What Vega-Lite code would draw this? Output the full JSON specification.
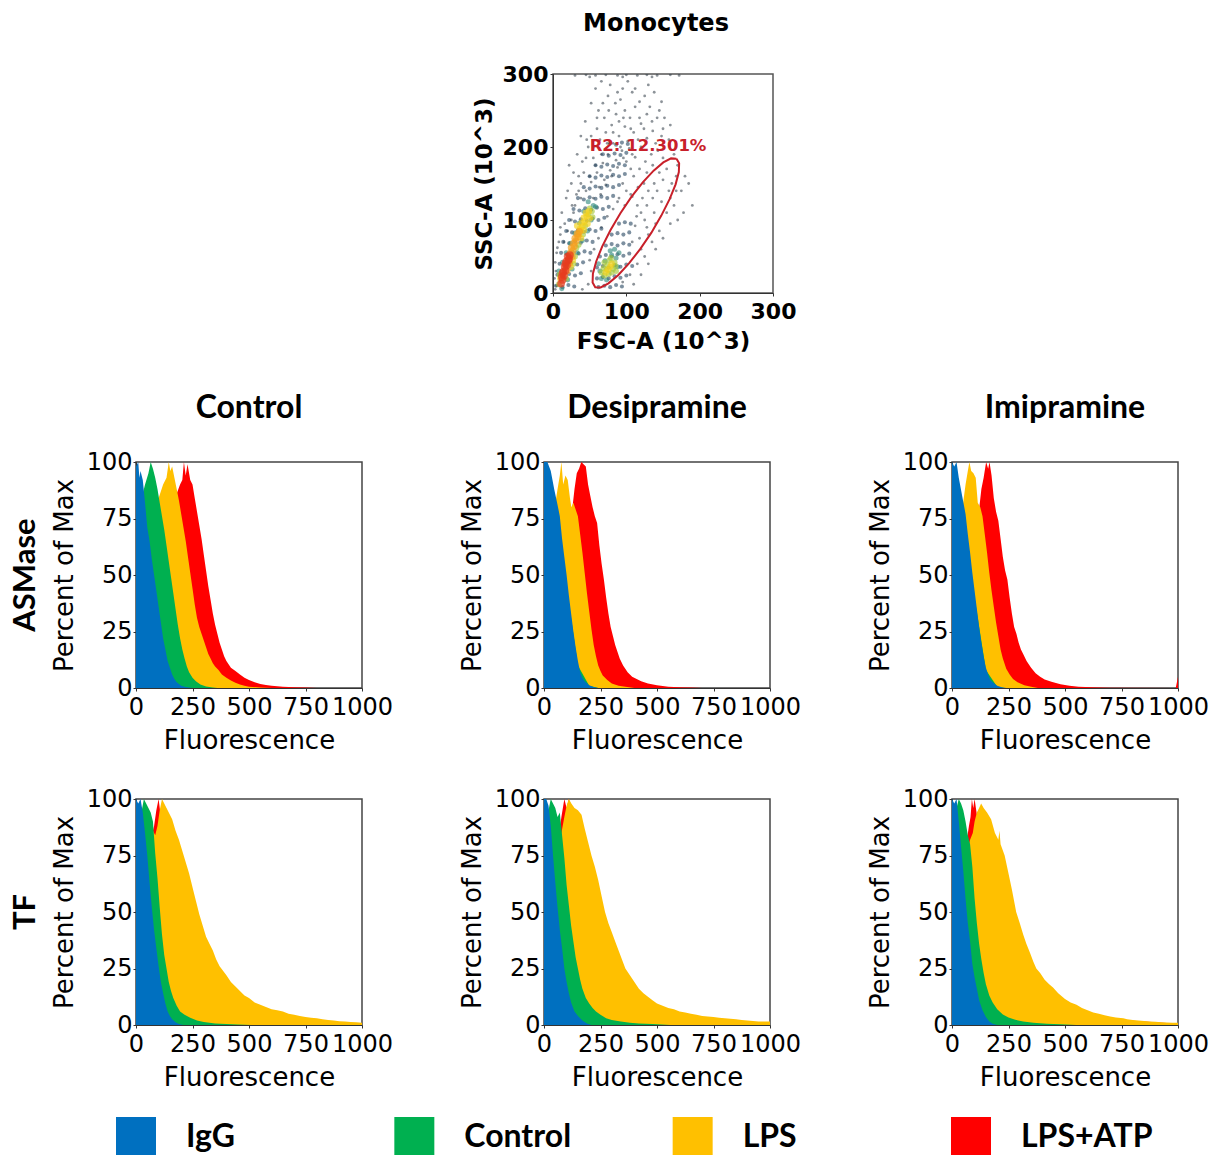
{
"$schema": "https://vega.github.io/schema/vega-lite/v6.json",
"padding": {"left": 9, "top": 11, "right": 5, "bottom": 0},
"background": "white",
"config": {
 "view": {"stroke": "#444", "strokeWidth": 1.5},
 "axis": {"labelFont": "DejaVu Sans", "titleFont": "DejaVu Sans", "labelColor": "black", "titleColor": "black", "labelFontSize": 24, "titleFontSize": 26, "titleFontWeight": "normal", "grid": false, "domainColor": "#333", "tickColor": "#333", "tickSize": 3, "labelPadding": 1, "labelOverlap": false, "labelFlush": false}
},
"datasets": {
 "panels": [
  {"p": 1, "m": "ASMase", "t": "Control"},
  {"p": 2, "m": "ASMase", "t": "Desipramine"},
  {"p": 3, "m": "ASMase", "t": "Imipramine"},
  {"p": 4, "m": "TF", "t": "Control"},
  {"p": 5, "m": "TF", "t": "Desipramine"},
  {"p": 6, "m": "TF", "t": "Imipramine"}
 ],
 "gate": [
  {"i":0,"x":168.4,"y":184.0},{"i":1,"x":161.0,"y":184.4},{"i":2,"x":150.4,"y":178.9},{"i":3,"x":137.2,"y":167.6},{"i":4,"x":122.4,"y":151.5},{"i":5,"x":106.9,"y":131.6},{"i":6,"x":91.9,"y":109.3},{"i":7,"x":78.3,"y":86.0},{"i":8,"x":67.0,"y":63.5},{"i":9,"x":58.9,"y":43.2},{"i":10,"x":54.4,"y":26.4},{"i":11,"x":54.0,"y":14.4},{"i":12,"x":57.6,"y":8.0},{"i":13,"x":65.0,"y":7.6},{"i":14,"x":75.6,"y":13.2},{"i":15,"x":88.8,"y":24.4},{"i":16,"x":103.6,"y":40.5},{"i":17,"x":119.1,"y":60.4},{"i":18,"x":134.2,"y":82.7},{"i":19,"x":147.7,"y":106.0},{"i":20,"x":159.0,"y":128.5},{"i":21,"x":167.2,"y":148.8},{"i":22,"x":171.6,"y":165.6},{"i":23,"x":172.0,"y":177.6},{"i":24,"x":168.4,"y":184.0}
 ],
 "events": [
  {"x":45,"y":140,"d":0},{"x":52,"y":152,"d":0},{"x":60,"y":165,"d":0},{"x":68,"y":178,"d":0},{"x":75,"y":190,"d":0},{"x":82,"y":205,"d":0},{"x":90,"y":215,"d":0},{"x":98,"y":228,"d":0},{"x":105,"y":240,"d":0},{"x":112,"y":255,"d":0},{"x":118,"y":262,"d":0},{"x":125,"y":270,"d":0},
  {"x":55,"y":130,"d":0},{"x":63,"y":145,"d":0},{"x":70,"y":155,"d":0},{"x":78,"y":168,"d":0},{"x":86,"y":182,"d":0},{"x":94,"y":195,"d":0},{"x":102,"y":208,"d":0},{"x":110,"y":220,"d":0},{"x":120,"y":232,"d":0},{"x":128,"y":245,"d":0},{"x":135,"y":235,"d":0},
  {"x":65,"y":135,"d":0},{"x":72,"y":148,"d":0},{"x":80,"y":160,"d":0},{"x":88,"y":172,"d":0},{"x":96,"y":185,"d":0},{"x":104,"y":198,"d":0},{"x":112,"y":186,"d":0},{"x":120,"y":200,"d":0},{"x":128,"y":212,"d":0},{"x":136,"y":222,"d":0},{"x":142,"y":240,"d":0},
  {"x":50,"y":160,"d":0},{"x":58,"y":175,"d":0},{"x":66,"y":190,"d":0},{"x":74,"y":205,"d":0},{"x":82,"y":220,"d":0},{"x":90,"y":235,"d":0},{"x":98,"y":250,"d":0},{"x":85,"y":260,"d":0},{"x":70,"y":240,"d":0},{"x":60,"y":225,"d":0},{"x":48,"y":200,"d":0},{"x":40,"y":180,"d":0},{"x":35,"y":160,"d":0},
  {"x":110,"y":160,"d":0},{"x":118,"y":170,"d":0},{"x":126,"y":180,"d":0},{"x":134,"y":190,"d":0},{"x":140,"y":205,"d":0},{"x":148,"y":215,"d":0},{"x":150,"y":185,"d":0},{"x":145,"y":165,"d":0},{"x":138,"y":150,"d":0},{"x":130,"y":140,"d":0},{"x":122,"y":130,"d":0},{"x":115,"y":120,"d":0},{"x":108,"y":132,"d":0},{"x":100,"y":140,"d":0},{"x":95,"y":150,"d":0},{"x":88,"y":125,"d":0},{"x":112,"y":92,"d":0},{"x":120,"y":110,"d":0},{"x":128,"y":120,"d":0},{"x":136,"y":130,"d":0},{"x":142,"y":140,"d":0},{"x":150,"y":155,"d":0},{"x":155,"y":170,"d":0},
  {"x":30,"y":120,"d":0},{"x":25,"y":100,"d":0},{"x":20,"y":85,"d":0},{"x":15,"y":70,"d":0},{"x":35,"y":140,"d":0},{"x":28,"y":110,"d":0},{"x":42,"y":165,"d":0},{"x":38,"y":130,"d":0},{"x":55,"y":185,"d":0},{"x":46,"y":210,"d":0},{"x":62,"y":250,"d":0},{"x":75,"y":270,"d":0},{"x":95,"y":280,"d":0},{"x":108,"y":275,"d":0},{"x":130,"y":285,"d":0},{"x":148,"y":262,"d":0},{"x":160,"y":230,"d":0},
  {"x":30,"y":298,"d":0},{"x":45,"y":299,"d":0},{"x":58,"y":298,"d":0},{"x":72,"y":299,"d":0},{"x":88,"y":298,"d":0},{"x":100,"y":299,"d":0},{"x":115,"y":298,"d":0},{"x":128,"y":299,"d":0},{"x":142,"y":298,"d":0},{"x":160,"y":299,"d":0},{"x":172,"y":298,"d":0},{"x":50,"y":296,"d":0},{"x":95,"y":296,"d":0},{"x":135,"y":296,"d":0},
  {"x":120,"y":60,"d":0},{"x":130,"y":80,"d":0},{"x":140,"y":95,"d":0},{"x":155,"y":110,"d":0},{"x":160,"y":130,"d":0},{"x":165,"y":120,"d":0},{"x":115,"y":40,"d":0},{"x":125,"y":50,"d":0},{"x":105,"y":25,"d":0},{"x":95,"y":15,"d":0},{"x":110,"y":12,"d":0},{"x":135,"y":70,"d":0},{"x":145,"y":85,"d":0},{"x":175,"y":140,"d":0},{"x":180,"y":160,"d":0},{"x":170,"y":100,"d":0},
  {"x":3,"y":5,"d":0},{"x":5,"y":10,"d":0},{"x":4,"y":30,"d":0},{"x":5,"y":55,"d":0},{"x":8,"y":70,"d":0},{"x":10,"y":90,"d":0},{"x":12,"y":110,"d":0},{"x":18,"y":130,"d":0},{"x":25,"y":150,"d":0},{"x":22,"y":175,"d":0},
  {"x":20,"y":140,"d":0},{"x":28,"y":165,"d":0},{"x":33,"y":190,"d":0},{"x":38,"y":215,"d":0},{"x":44,"y":235,"d":0},{"x":52,"y":260,"d":0},{"x":58,"y":280,"d":0},{"x":66,"y":290,"d":0},{"x":78,"y":285,"d":0},{"x":86,"y":245,"d":0},{"x":92,"y":265,"d":0},{"x":102,"y":290,"d":0},{"x":112,"y":280,"d":0},{"x":118,"y":240,"d":0},{"x":124,"y":225,"d":0},{"x":132,"y":255,"d":0},{"x":138,"y":275,"d":0},{"x":145,"y":250,"d":0},{"x":152,"y":240,"d":0},{"x":158,"y":210,"d":0},{"x":165,"y":190,"d":0},{"x":170,"y":175,"d":0},{"x":162,"y":150,"d":0},{"x":168,"y":160,"d":0},{"x":185,"y":150,"d":0},{"x":190,"y":120,"d":0},{"x":178,"y":110,"d":0},{"x":160,"y":95,"d":0},{"x":150,"y":75,"d":0},{"x":140,"y":60,"d":0},{"x":130,"y":40,"d":0},{"x":120,"y":25,"d":0},{"x":128,"y":90,"d":0},{"x":118,"y":75,"d":0},{"x":108,"y":70,"d":0},{"x":114,"y":105,"d":0},{"x":124,"y":150,"d":0},{"x":106,"y":170,"d":0},{"x":100,"y":180,"d":0},{"x":92,"y":200,"d":0},{"x":108,"y":190,"d":0},{"x":116,"y":210,"d":0},{"x":106,"y":225,"d":0},{"x":96,"y":240,"d":0},{"x":80,"y":230,"d":0},{"x":72,"y":220,"d":0},{"x":64,"y":210,"d":0},{"x":56,"y":200,"d":0},{"x":52,"y":215,"d":0},{"x":60,"y":240,"d":0},{"x":68,"y":260,"d":0},{"x":88,"y":275,"d":0},{"x":76,"y":250,"d":0},{"x":45,"y":185,"d":0},{"x":38,"y":150,"d":0},{"x":32,"y":135,"d":0},{"x":26,"y":120,"d":0},{"x":16,"y":95,"d":0},{"x":10,"y":80,"d":0},{"x":6,"y":62,"d":0},{"x":3,"y":42,"d":0},{"x":2,"y":20,"d":0},{"x":40,"y":5,"d":0},{"x":48,"y":12,"d":0},{"x":52,"y":30,"d":0},{"x":50,"y":45,"d":0},{"x":56,"y":60,"d":0},{"x":62,"y":75,"d":0},{"x":66,"y":90,"d":0},{"x":74,"y":105,"d":0},{"x":82,"y":115,"d":0},{"x":90,"y":130,"d":0},{"x":98,"y":120,"d":0},{"x":106,"y":135,"d":0},{"x":116,"y":145,"d":0},{"x":128,"y":165,"d":0},{"x":136,"y":175,"d":0},{"x":143,"y":195,"d":0},{"x":150,"y":225,"d":0},{"x":138,"y":110,"d":0},{"x":148,"y":125,"d":0},{"x":158,"y":140,"d":0},{"x":168,"y":140,"d":0},{"x":125,"y":100,"d":0},
  {"x":4,"y":10,"d":1},{"x":13,"y":8,"d":1},{"x":21,"y":11,"d":1},{"x":29,"y":9,"d":1},
  {"x":6,"y":25,"d":1},{"x":14,"y":23,"d":1},{"x":22,"y":26,"d":1},{"x":30,"y":24,"d":1},{"x":38,"y":27,"d":1},
  {"x":9,"y":40,"d":1},{"x":17,"y":38,"d":1},{"x":25,"y":41,"d":1},{"x":33,"y":39,"d":1},{"x":41,"y":42,"d":1},
  {"x":11,"y":55,"d":1},{"x":19,"y":53,"d":1},{"x":27,"y":56,"d":1},{"x":35,"y":54,"d":1},{"x":43,"y":57,"d":1},{"x":51,"y":55,"d":1},
  {"x":14,"y":70,"d":1},{"x":22,"y":68,"d":1},{"x":30,"y":71,"d":1},{"x":38,"y":69,"d":1},{"x":46,"y":72,"d":1},{"x":54,"y":70,"d":1},
  {"x":18,"y":85,"d":1},{"x":26,"y":83,"d":1},{"x":34,"y":86,"d":1},{"x":42,"y":84,"d":1},{"x":50,"y":87,"d":1},{"x":58,"y":85,"d":1},{"x":66,"y":88,"d":1},
  {"x":22,"y":100,"d":1},{"x":30,"y":98,"d":1},{"x":38,"y":101,"d":1},{"x":46,"y":99,"d":1},{"x":54,"y":102,"d":1},{"x":62,"y":100,"d":1},{"x":70,"y":103,"d":1},
  {"x":28,"y":115,"d":1},{"x":36,"y":113,"d":1},{"x":44,"y":116,"d":1},{"x":52,"y":114,"d":1},{"x":60,"y":117,"d":1},{"x":68,"y":115,"d":1},{"x":76,"y":118,"d":1},
  {"x":34,"y":130,"d":1},{"x":42,"y":128,"d":1},{"x":50,"y":131,"d":1},{"x":58,"y":129,"d":1},{"x":66,"y":132,"d":1},{"x":74,"y":130,"d":1},{"x":82,"y":133,"d":1},
  {"x":42,"y":145,"d":1},{"x":50,"y":143,"d":1},{"x":58,"y":146,"d":1},{"x":66,"y":144,"d":1},{"x":74,"y":147,"d":1},{"x":82,"y":145,"d":1},{"x":90,"y":148,"d":1},
  {"x":50,"y":160,"d":1},{"x":58,"y":158,"d":1},{"x":66,"y":161,"d":1},{"x":74,"y":159,"d":1},{"x":82,"y":162,"d":1},{"x":90,"y":160,"d":1},{"x":98,"y":163,"d":1},
  {"x":58,"y":175,"d":1},{"x":66,"y":173,"d":1},{"x":74,"y":176,"d":1},{"x":82,"y":174,"d":1},{"x":90,"y":177,"d":1},{"x":98,"y":175,"d":1},
  {"x":68,"y":190,"d":1},{"x":76,"y":188,"d":1},{"x":84,"y":191,"d":1},{"x":92,"y":189,"d":1},{"x":100,"y":192,"d":1},
  {"x":78,"y":205,"d":1},{"x":86,"y":203,"d":1},{"x":94,"y":206,"d":1},{"x":102,"y":204,"d":1},
  {"x":62,"y":8,"d":1},{"x":70,"y":10,"d":1},{"x":78,"y":8,"d":1},{"x":86,"y":11,"d":1},{"x":94,"y":9,"d":1},
  {"x":60,"y":20,"d":1},{"x":68,"y":22,"d":1},{"x":76,"y":20,"d":1},{"x":84,"y":23,"d":1},{"x":92,"y":21,"d":1},{"x":100,"y":24,"d":1},
  {"x":60,"y":35,"d":1},{"x":68,"y":37,"d":1},{"x":76,"y":35,"d":1},{"x":84,"y":38,"d":1},{"x":92,"y":36,"d":1},{"x":100,"y":39,"d":1},{"x":108,"y":37,"d":1},
  {"x":64,"y":50,"d":1},{"x":72,"y":52,"d":1},{"x":80,"y":50,"d":1},{"x":88,"y":53,"d":1},{"x":96,"y":51,"d":1},{"x":104,"y":54,"d":1},
  {"x":72,"y":65,"d":1},{"x":80,"y":67,"d":1},{"x":88,"y":65,"d":1},{"x":96,"y":68,"d":1},{"x":104,"y":66,"d":1},
  {"x":80,"y":80,"d":1},{"x":88,"y":82,"d":1},{"x":96,"y":80,"d":1},{"x":104,"y":83,"d":1},
  {"x":90,"y":95,"d":1},{"x":98,"y":97,"d":1},{"x":106,"y":95,"d":1},
  {"x":55,"y":120,"d":2},{"x":52,"y":100,"d":2},{"x":47,"y":85,"d":2},{"x":40,"y":72,"d":2},{"x":33,"y":55,"d":2},{"x":26,"y":33,"d":2},{"x":20,"y":18,"d":2},{"x":12,"y":6,"d":2},{"x":8,"y":30,"d":2},{"x":13,"y":42,"d":2},{"x":18,"y":55,"d":2},{"x":24,"y":68,"d":2},{"x":30,"y":82,"d":2},{"x":36,"y":96,"d":2},{"x":42,"y":112,"d":2},{"x":48,"y":125,"d":2},{"x":58,"y":118,"d":2},
  {"x":66,"y":20,"d":2},{"x":64,"y":30,"d":2},{"x":71,"y":44,"d":2},{"x":86,"y":48,"d":2},{"x":80,"y":52,"d":2},{"x":88,"y":36,"d":2},{"x":73,"y":18,"d":2},{"x":62,"y":40,"d":2},{"x":90,"y":55,"d":2},{"x":78,"y":58,"d":2},{"x":84,"y":60,"d":2},
  {"x":50,"y":116,"d":3},{"x":48,"y":108,"d":3},{"x":53,"y":112,"d":3},{"x":8,"y":12,"d":3},{"x":9,"y":25,"d":3},{"x":18,"y":20,"d":3},{"x":28,"y":40,"d":3},{"x":32,"y":62,"d":3},{"x":41,"y":80,"d":3},{"x":44,"y":92,"d":3},{"x":35,"y":66,"d":3},{"x":30,"y":50,"d":3},{"x":54,"y":104,"d":3},
  {"x":70,"y":24,"d":3},{"x":74,"y":38,"d":3},{"x":82,"y":33,"d":3},{"x":77,"y":45,"d":3},{"x":69,"y":34,"d":3},{"x":84,"y":42,"d":3},{"x":76,"y":26,"d":3},{"x":66,"y":28,"d":3},{"x":86,"y":30,"d":3},{"x":80,"y":28,"d":3},{"x":70,"y":42,"d":3},{"x":79,"y":48,"d":3},{"x":73,"y":32,"d":3},{"x":85,"y":37,"d":3},
  {"x":37,"y":88,"d":4},{"x":40,"y":91,"d":4},{"x":39,"y":96,"d":4},{"x":43,"y":98,"d":4},{"x":42,"y":103,"d":4},{"x":46,"y":105,"d":4},{"x":45,"y":110,"d":4},{"x":49,"y":112,"d":4},{"x":35,"y":80,"d":4},{"x":38,"y":86,"d":4},{"x":27,"y":45,"d":4},{"x":10,"y":20,"d":4},{"x":24,"y":36,"d":4},{"x":33,"y":92,"d":4},{"x":47,"y":95,"d":4},{"x":38,"y":75,"d":4},{"x":50,"y":102,"d":4},{"x":42,"y":86,"d":4},
  {"x":75,"y":32,"d":4},{"x":78,"y":36,"d":4},{"x":72,"y":28,"d":4},{"x":80,"y":40,"d":4},
  {"x":24,"y":55,"d":5},{"x":27,"y":58,"d":5},{"x":25,"y":62,"d":5},{"x":29,"y":64,"d":5},{"x":28,"y":68,"d":5},{"x":31,"y":71,"d":5},{"x":30,"y":75,"d":5},{"x":34,"y":77,"d":5},{"x":33,"y":81,"d":5},{"x":36,"y":84,"d":5},{"x":26,"y":50,"d":5},{"x":22,"y":40,"d":5},{"x":19,"y":30,"d":5},
  {"x":11,"y":13,"d":6},{"x":13,"y":18,"d":6},{"x":12,"y":22,"d":6},{"x":15,"y":24,"d":6},{"x":14,"y":29,"d":6},{"x":17,"y":31,"d":6},{"x":16,"y":36,"d":6},{"x":19,"y":38,"d":6},{"x":18,"y":43,"d":6},{"x":21,"y":45,"d":6},{"x":20,"y":50,"d":6},{"x":23,"y":52,"d":6},{"x":13,"y":27,"d":6},{"x":17,"y":40,"d":6},{"x":22,"y":47,"d":6}
 ],
 "hist": [
  {"p":1,"s":"IgG","x":0,"y":98},{"p":1,"s":"IgG","x":10,"y":100},{"p":1,"s":"IgG","x":15,"y":93},{"p":1,"s":"IgG","x":20,"y":96},{"p":1,"s":"IgG","x":30,"y":92},{"p":1,"s":"IgG","x":40,"y":82},{"p":1,"s":"IgG","x":50,"y":71},{"p":1,"s":"IgG","x":60,"y":65},{"p":1,"s":"IgG","x":70,"y":57},{"p":1,"s":"IgG","x":80,"y":50},{"p":1,"s":"IgG","x":90,"y":43},{"p":1,"s":"IgG","x":100,"y":36},{"p":1,"s":"IgG","x":110,"y":29},{"p":1,"s":"IgG","x":120,"y":22},{"p":1,"s":"IgG","x":130,"y":17},{"p":1,"s":"IgG","x":140,"y":12},{"p":1,"s":"IgG","x":150,"y":9},{"p":1,"s":"IgG","x":160,"y":6},{"p":1,"s":"IgG","x":170,"y":4},{"p":1,"s":"IgG","x":180,"y":2.5},{"p":1,"s":"IgG","x":200,"y":1},{"p":1,"s":"IgG","x":220,"y":0.4},{"p":1,"s":"IgG","x":250,"y":0},
  {"p":1,"s":"Control","x":0,"y":70},{"p":1,"s":"Control","x":20,"y":82},{"p":1,"s":"Control","x":40,"y":90},{"p":1,"s":"Control","x":55,"y":95},{"p":1,"s":"Control","x":65,"y":100},{"p":1,"s":"Control","x":75,"y":97},{"p":1,"s":"Control","x":85,"y":93},{"p":1,"s":"Control","x":95,"y":88},{"p":1,"s":"Control","x":105,"y":82},{"p":1,"s":"Control","x":115,"y":76},{"p":1,"s":"Control","x":125,"y":70},{"p":1,"s":"Control","x":135,"y":63},{"p":1,"s":"Control","x":145,"y":56},{"p":1,"s":"Control","x":155,"y":49},{"p":1,"s":"Control","x":165,"y":42},{"p":1,"s":"Control","x":175,"y":35},{"p":1,"s":"Control","x":185,"y":28},{"p":1,"s":"Control","x":195,"y":22},{"p":1,"s":"Control","x":205,"y":17},{"p":1,"s":"Control","x":215,"y":13},{"p":1,"s":"Control","x":225,"y":9.5},{"p":1,"s":"Control","x":235,"y":7},{"p":1,"s":"Control","x":250,"y":4.5},{"p":1,"s":"Control","x":265,"y":3},{"p":1,"s":"Control","x":285,"y":1.5},{"p":1,"s":"Control","x":310,"y":0.7},{"p":1,"s":"Control","x":340,"y":0.2},{"p":1,"s":"Control","x":360,"y":0},
  {"p":1,"s":"LPS","x":0,"y":40},{"p":1,"s":"LPS","x":50,"y":60},{"p":1,"s":"LPS","x":100,"y":84},{"p":1,"s":"LPS","x":120,"y":90},{"p":1,"s":"LPS","x":135,"y":93},{"p":1,"s":"LPS","x":145,"y":100},{"p":1,"s":"LPS","x":152,"y":96},{"p":1,"s":"LPS","x":160,"y":98},{"p":1,"s":"LPS","x":170,"y":93},{"p":1,"s":"LPS","x":180,"y":88},{"p":1,"s":"LPS","x":190,"y":83},{"p":1,"s":"LPS","x":200,"y":77},{"p":1,"s":"LPS","x":210,"y":71},{"p":1,"s":"LPS","x":220,"y":65},{"p":1,"s":"LPS","x":230,"y":58},{"p":1,"s":"LPS","x":240,"y":51},{"p":1,"s":"LPS","x":250,"y":44},{"p":1,"s":"LPS","x":260,"y":37},{"p":1,"s":"LPS","x":270,"y":31},{"p":1,"s":"LPS","x":280,"y":27},{"p":1,"s":"LPS","x":290,"y":24},{"p":1,"s":"LPS","x":300,"y":21},{"p":1,"s":"LPS","x":310,"y":18},{"p":1,"s":"LPS","x":320,"y":15},{"p":1,"s":"LPS","x":330,"y":13},{"p":1,"s":"LPS","x":340,"y":11},{"p":1,"s":"LPS","x":350,"y":9.5},{"p":1,"s":"LPS","x":365,"y":8},{"p":1,"s":"LPS","x":380,"y":6},{"p":1,"s":"LPS","x":400,"y":4.5},{"p":1,"s":"LPS","x":420,"y":3.3},{"p":1,"s":"LPS","x":440,"y":2.3},{"p":1,"s":"LPS","x":460,"y":1.6},{"p":1,"s":"LPS","x":480,"y":1},{"p":1,"s":"LPS","x":500,"y":0.6},{"p":1,"s":"LPS","x":550,"y":0.2},{"p":1,"s":"LPS","x":600,"y":0},
  {"p":1,"s":"LPS+ATP","x":0,"y":30},{"p":1,"s":"LPS+ATP","x":100,"y":60},{"p":1,"s":"LPS+ATP","x":150,"y":78},{"p":1,"s":"LPS+ATP","x":180,"y":86},{"p":1,"s":"LPS+ATP","x":195,"y":90},{"p":1,"s":"LPS+ATP","x":205,"y":92},{"p":1,"s":"LPS+ATP","x":212,"y":100},{"p":1,"s":"LPS+ATP","x":220,"y":94},{"p":1,"s":"LPS+ATP","x":228,"y":99},{"p":1,"s":"LPS+ATP","x":240,"y":92},{"p":1,"s":"LPS+ATP","x":250,"y":90},{"p":1,"s":"LPS+ATP","x":260,"y":84},{"p":1,"s":"LPS+ATP","x":270,"y":78},{"p":1,"s":"LPS+ATP","x":280,"y":72},{"p":1,"s":"LPS+ATP","x":290,"y":66},{"p":1,"s":"LPS+ATP","x":300,"y":59},{"p":1,"s":"LPS+ATP","x":310,"y":52},{"p":1,"s":"LPS+ATP","x":320,"y":45},{"p":1,"s":"LPS+ATP","x":330,"y":39},{"p":1,"s":"LPS+ATP","x":340,"y":33},{"p":1,"s":"LPS+ATP","x":350,"y":28},{"p":1,"s":"LPS+ATP","x":360,"y":24},{"p":1,"s":"LPS+ATP","x":370,"y":20},{"p":1,"s":"LPS+ATP","x":380,"y":17},{"p":1,"s":"LPS+ATP","x":390,"y":14},{"p":1,"s":"LPS+ATP","x":400,"y":12},{"p":1,"s":"LPS+ATP","x":420,"y":9},{"p":1,"s":"LPS+ATP","x":440,"y":7.5},{"p":1,"s":"LPS+ATP","x":460,"y":6},{"p":1,"s":"LPS+ATP","x":480,"y":4.5},{"p":1,"s":"LPS+ATP","x":500,"y":3.5},{"p":1,"s":"LPS+ATP","x":525,"y":2.5},{"p":1,"s":"LPS+ATP","x":550,"y":1.8},{"p":1,"s":"LPS+ATP","x":575,"y":1.3},{"p":1,"s":"LPS+ATP","x":600,"y":1},{"p":1,"s":"LPS+ATP","x":650,"y":0.6},{"p":1,"s":"LPS+ATP","x":700,"y":0.3},{"p":1,"s":"LPS+ATP","x":750,"y":0.2},{"p":1,"s":"LPS+ATP","x":800,"y":0},

  {"p":2,"s":"IgG","x":0,"y":100},{"p":2,"s":"IgG","x":15,"y":100},{"p":2,"s":"IgG","x":30,"y":96},{"p":2,"s":"IgG","x":45,"y":88},{"p":2,"s":"IgG","x":60,"y":81},{"p":2,"s":"IgG","x":70,"y":76},{"p":2,"s":"IgG","x":80,"y":66},{"p":2,"s":"IgG","x":90,"y":58},{"p":2,"s":"IgG","x":100,"y":50},{"p":2,"s":"IgG","x":110,"y":41},{"p":2,"s":"IgG","x":120,"y":33},{"p":2,"s":"IgG","x":130,"y":25},{"p":2,"s":"IgG","x":140,"y":18},{"p":2,"s":"IgG","x":150,"y":12},{"p":2,"s":"IgG","x":160,"y":7},{"p":2,"s":"IgG","x":170,"y":4.5},{"p":2,"s":"IgG","x":180,"y":3},{"p":2,"s":"IgG","x":200,"y":1.2},{"p":2,"s":"IgG","x":220,"y":0.4},{"p":2,"s":"IgG","x":240,"y":0},
  {"p":2,"s":"Control","x":0,"y":95},{"p":2,"s":"Control","x":50,"y":80},{"p":2,"s":"Control","x":100,"y":45},{"p":2,"s":"Control","x":150,"y":10},{"p":2,"s":"Control","x":200,"y":1},{"p":2,"s":"Control","x":240,"y":0},
  {"p":2,"s":"LPS","x":0,"y":60},{"p":2,"s":"LPS","x":40,"y":75},{"p":2,"s":"LPS","x":60,"y":88},{"p":2,"s":"LPS","x":70,"y":94},{"p":2,"s":"LPS","x":77,"y":100},{"p":2,"s":"LPS","x":85,"y":90},{"p":2,"s":"LPS","x":95,"y":94},{"p":2,"s":"LPS","x":105,"y":92},{"p":2,"s":"LPS","x":115,"y":84},{"p":2,"s":"LPS","x":121,"y":80},{"p":2,"s":"LPS","x":130,"y":82},{"p":2,"s":"LPS","x":140,"y":79},{"p":2,"s":"LPS","x":150,"y":76},{"p":2,"s":"LPS","x":160,"y":68},{"p":2,"s":"LPS","x":170,"y":60},{"p":2,"s":"LPS","x":180,"y":51},{"p":2,"s":"LPS","x":190,"y":42},{"p":2,"s":"LPS","x":200,"y":34},{"p":2,"s":"LPS","x":210,"y":26},{"p":2,"s":"LPS","x":220,"y":19},{"p":2,"s":"LPS","x":230,"y":14},{"p":2,"s":"LPS","x":240,"y":10},{"p":2,"s":"LPS","x":250,"y":7.5},{"p":2,"s":"LPS","x":260,"y":5.5},{"p":2,"s":"LPS","x":280,"y":3.5},{"p":2,"s":"LPS","x":300,"y":2},{"p":2,"s":"LPS","x":330,"y":1},{"p":2,"s":"LPS","x":360,"y":0.5},{"p":2,"s":"LPS","x":400,"y":0},
  {"p":2,"s":"LPS+ATP","x":0,"y":30},{"p":2,"s":"LPS+ATP","x":80,"y":55},{"p":2,"s":"LPS+ATP","x":110,"y":70},{"p":2,"s":"LPS+ATP","x":126,"y":80},{"p":2,"s":"LPS+ATP","x":135,"y":88},{"p":2,"s":"LPS+ATP","x":145,"y":95},{"p":2,"s":"LPS+ATP","x":155,"y":97},{"p":2,"s":"LPS+ATP","x":165,"y":100},{"p":2,"s":"LPS+ATP","x":175,"y":99},{"p":2,"s":"LPS+ATP","x":185,"y":98},{"p":2,"s":"LPS+ATP","x":195,"y":90},{"p":2,"s":"LPS+ATP","x":205,"y":85},{"p":2,"s":"LPS+ATP","x":215,"y":80},{"p":2,"s":"LPS+ATP","x":225,"y":76},{"p":2,"s":"LPS+ATP","x":235,"y":73},{"p":2,"s":"LPS+ATP","x":245,"y":63},{"p":2,"s":"LPS+ATP","x":255,"y":55},{"p":2,"s":"LPS+ATP","x":265,"y":48},{"p":2,"s":"LPS+ATP","x":275,"y":40},{"p":2,"s":"LPS+ATP","x":285,"y":33},{"p":2,"s":"LPS+ATP","x":295,"y":27},{"p":2,"s":"LPS+ATP","x":305,"y":23},{"p":2,"s":"LPS+ATP","x":315,"y":19},{"p":2,"s":"LPS+ATP","x":325,"y":16},{"p":2,"s":"LPS+ATP","x":335,"y":13},{"p":2,"s":"LPS+ATP","x":350,"y":10},{"p":2,"s":"LPS+ATP","x":370,"y":7},{"p":2,"s":"LPS+ATP","x":390,"y":5},{"p":2,"s":"LPS+ATP","x":410,"y":4},{"p":2,"s":"LPS+ATP","x":430,"y":3},{"p":2,"s":"LPS+ATP","x":460,"y":2},{"p":2,"s":"LPS+ATP","x":500,"y":1.2},{"p":2,"s":"LPS+ATP","x":550,"y":0.6},{"p":2,"s":"LPS+ATP","x":600,"y":0.3},{"p":2,"s":"LPS+ATP","x":650,"y":0.2},{"p":2,"s":"LPS+ATP","x":700,"y":0},

  {"p":3,"s":"IgG","x":0,"y":100},{"p":3,"s":"IgG","x":10,"y":98},{"p":3,"s":"IgG","x":20,"y":100},{"p":3,"s":"IgG","x":30,"y":93},{"p":3,"s":"IgG","x":45,"y":85},{"p":3,"s":"IgG","x":60,"y":77},{"p":3,"s":"IgG","x":70,"y":68},{"p":3,"s":"IgG","x":80,"y":60},{"p":3,"s":"IgG","x":90,"y":51},{"p":3,"s":"IgG","x":100,"y":43},{"p":3,"s":"IgG","x":110,"y":35},{"p":3,"s":"IgG","x":120,"y":27},{"p":3,"s":"IgG","x":130,"y":20},{"p":3,"s":"IgG","x":140,"y":14},{"p":3,"s":"IgG","x":150,"y":9},{"p":3,"s":"IgG","x":160,"y":6},{"p":3,"s":"IgG","x":170,"y":3.5},{"p":3,"s":"IgG","x":180,"y":2.5},{"p":3,"s":"IgG","x":200,"y":1},{"p":3,"s":"IgG","x":220,"y":0.3},{"p":3,"s":"IgG","x":240,"y":0},
  {"p":3,"s":"Control","x":0,"y":95},{"p":3,"s":"Control","x":50,"y":78},{"p":3,"s":"Control","x":100,"y":40},{"p":3,"s":"Control","x":150,"y":8},{"p":3,"s":"Control","x":200,"y":0.5},{"p":3,"s":"Control","x":230,"y":0},
  {"p":3,"s":"LPS","x":0,"y":55},{"p":3,"s":"LPS","x":40,"y":75},{"p":3,"s":"LPS","x":60,"y":90},{"p":3,"s":"LPS","x":70,"y":96},{"p":3,"s":"LPS","x":77,"y":100},{"p":3,"s":"LPS","x":85,"y":96},{"p":3,"s":"LPS","x":95,"y":95},{"p":3,"s":"LPS","x":105,"y":93},{"p":3,"s":"LPS","x":114,"y":82},{"p":3,"s":"LPS","x":125,"y":80},{"p":3,"s":"LPS","x":135,"y":76},{"p":3,"s":"LPS","x":145,"y":68},{"p":3,"s":"LPS","x":155,"y":60},{"p":3,"s":"LPS","x":165,"y":51},{"p":3,"s":"LPS","x":175,"y":43},{"p":3,"s":"LPS","x":185,"y":36},{"p":3,"s":"LPS","x":195,"y":29},{"p":3,"s":"LPS","x":205,"y":23},{"p":3,"s":"LPS","x":215,"y":17},{"p":3,"s":"LPS","x":225,"y":13},{"p":3,"s":"LPS","x":240,"y":8.5},{"p":3,"s":"LPS","x":255,"y":6},{"p":3,"s":"LPS","x":270,"y":4},{"p":3,"s":"LPS","x":290,"y":2.5},{"p":3,"s":"LPS","x":320,"y":1.2},{"p":3,"s":"LPS","x":350,"y":0.5},{"p":3,"s":"LPS","x":380,"y":0},
  {"p":3,"s":"LPS+ATP","x":0,"y":30},{"p":3,"s":"LPS+ATP","x":80,"y":55},{"p":3,"s":"LPS+ATP","x":110,"y":72},{"p":3,"s":"LPS+ATP","x":121,"y":80},{"p":3,"s":"LPS+ATP","x":130,"y":88},{"p":3,"s":"LPS+ATP","x":140,"y":93},{"p":3,"s":"LPS+ATP","x":151,"y":100},{"p":3,"s":"LPS+ATP","x":160,"y":97},{"p":3,"s":"LPS+ATP","x":166,"y":100},{"p":3,"s":"LPS+ATP","x":175,"y":94},{"p":3,"s":"LPS+ATP","x":185,"y":84},{"p":3,"s":"LPS+ATP","x":195,"y":78},{"p":3,"s":"LPS+ATP","x":205,"y":74},{"p":3,"s":"LPS+ATP","x":215,"y":66},{"p":3,"s":"LPS+ATP","x":225,"y":58},{"p":3,"s":"LPS+ATP","x":235,"y":52},{"p":3,"s":"LPS+ATP","x":245,"y":48},{"p":3,"s":"LPS+ATP","x":255,"y":40},{"p":3,"s":"LPS+ATP","x":265,"y":33},{"p":3,"s":"LPS+ATP","x":275,"y":27},{"p":3,"s":"LPS+ATP","x":285,"y":24},{"p":3,"s":"LPS+ATP","x":295,"y":20},{"p":3,"s":"LPS+ATP","x":305,"y":17},{"p":3,"s":"LPS+ATP","x":315,"y":15},{"p":3,"s":"LPS+ATP","x":330,"y":12},{"p":3,"s":"LPS+ATP","x":350,"y":9},{"p":3,"s":"LPS+ATP","x":370,"y":6.5},{"p":3,"s":"LPS+ATP","x":390,"y":5},{"p":3,"s":"LPS+ATP","x":410,"y":3.8},{"p":3,"s":"LPS+ATP","x":440,"y":2.8},{"p":3,"s":"LPS+ATP","x":480,"y":1.7},{"p":3,"s":"LPS+ATP","x":520,"y":1},{"p":3,"s":"LPS+ATP","x":560,"y":0.6},{"p":3,"s":"LPS+ATP","x":620,"y":0.3},{"p":3,"s":"LPS+ATP","x":700,"y":0.1},{"p":3,"s":"LPS+ATP","x":990,"y":0},{"p":3,"s":"LPS+ATP","x":1000,"y":5},

  {"p":4,"s":"IgG","x":0,"y":100},{"p":4,"s":"IgG","x":10,"y":98},{"p":4,"s":"IgG","x":20,"y":100},{"p":4,"s":"IgG","x":30,"y":94},{"p":4,"s":"IgG","x":40,"y":85},{"p":4,"s":"IgG","x":50,"y":75},{"p":4,"s":"IgG","x":60,"y":63},{"p":4,"s":"IgG","x":70,"y":52},{"p":4,"s":"IgG","x":80,"y":42},{"p":4,"s":"IgG","x":90,"y":34},{"p":4,"s":"IgG","x":100,"y":26},{"p":4,"s":"IgG","x":110,"y":19},{"p":4,"s":"IgG","x":120,"y":14},{"p":4,"s":"IgG","x":130,"y":9.5},{"p":4,"s":"IgG","x":140,"y":6},{"p":4,"s":"IgG","x":150,"y":4},{"p":4,"s":"IgG","x":160,"y":2.5},{"p":4,"s":"IgG","x":175,"y":1.2},{"p":4,"s":"IgG","x":190,"y":0.4},{"p":4,"s":"IgG","x":210,"y":0},
  {"p":4,"s":"Control","x":0,"y":80},{"p":4,"s":"Control","x":20,"y":92},{"p":4,"s":"Control","x":35,"y":100},{"p":4,"s":"Control","x":45,"y":98},{"p":4,"s":"Control","x":55,"y":96},{"p":4,"s":"Control","x":65,"y":94},{"p":4,"s":"Control","x":75,"y":90},{"p":4,"s":"Control","x":85,"y":76},{"p":4,"s":"Control","x":95,"y":65},{"p":4,"s":"Control","x":105,"y":52},{"p":4,"s":"Control","x":115,"y":40},{"p":4,"s":"Control","x":125,"y":31},{"p":4,"s":"Control","x":135,"y":25},{"p":4,"s":"Control","x":145,"y":19},{"p":4,"s":"Control","x":155,"y":15},{"p":4,"s":"Control","x":165,"y":12},{"p":4,"s":"Control","x":180,"y":8.5},{"p":4,"s":"Control","x":195,"y":6},{"p":4,"s":"Control","x":215,"y":4.5},{"p":4,"s":"Control","x":240,"y":3.2},{"p":4,"s":"Control","x":270,"y":2},{"p":4,"s":"Control","x":300,"y":1.3},{"p":4,"s":"Control","x":350,"y":0.7},{"p":4,"s":"Control","x":400,"y":0.4},{"p":4,"s":"Control","x":450,"y":0.2},{"p":4,"s":"Control","x":510,"y":0},
  {"p":4,"s":"LPS","x":0,"y":50},{"p":4,"s":"LPS","x":40,"y":70},{"p":4,"s":"LPS","x":60,"y":80},{"p":4,"s":"LPS","x":75,"y":86},{"p":4,"s":"LPS","x":85,"y":84},{"p":4,"s":"LPS","x":95,"y":88},{"p":4,"s":"LPS","x":105,"y":95},{"p":4,"s":"LPS","x":115,"y":100},{"p":4,"s":"LPS","x":125,"y":98},{"p":4,"s":"LPS","x":135,"y":96},{"p":4,"s":"LPS","x":145,"y":94},{"p":4,"s":"LPS","x":160,"y":91},{"p":4,"s":"LPS","x":175,"y":86},{"p":4,"s":"LPS","x":190,"y":82},{"p":4,"s":"LPS","x":205,"y":77},{"p":4,"s":"LPS","x":220,"y":72},{"p":4,"s":"LPS","x":235,"y":67},{"p":4,"s":"LPS","x":250,"y":61},{"p":4,"s":"LPS","x":265,"y":55},{"p":4,"s":"LPS","x":280,"y":49},{"p":4,"s":"LPS","x":295,"y":44},{"p":4,"s":"LPS","x":310,"y":39},{"p":4,"s":"LPS","x":325,"y":36},{"p":4,"s":"LPS","x":340,"y":33},{"p":4,"s":"LPS","x":355,"y":29},{"p":4,"s":"LPS","x":370,"y":26},{"p":4,"s":"LPS","x":385,"y":24},{"p":4,"s":"LPS","x":400,"y":22},{"p":4,"s":"LPS","x":420,"y":19},{"p":4,"s":"LPS","x":440,"y":17},{"p":4,"s":"LPS","x":460,"y":15},{"p":4,"s":"LPS","x":480,"y":13},{"p":4,"s":"LPS","x":500,"y":12},{"p":4,"s":"LPS","x":525,"y":10},{"p":4,"s":"LPS","x":550,"y":9},{"p":4,"s":"LPS","x":575,"y":8},{"p":4,"s":"LPS","x":600,"y":7},{"p":4,"s":"LPS","x":625,"y":6.5},{"p":4,"s":"LPS","x":650,"y":6},{"p":4,"s":"LPS","x":675,"y":5},{"p":4,"s":"LPS","x":700,"y":4.5},{"p":4,"s":"LPS","x":725,"y":4},{"p":4,"s":"LPS","x":750,"y":3.5},{"p":4,"s":"LPS","x":775,"y":3.2},{"p":4,"s":"LPS","x":800,"y":3},{"p":4,"s":"LPS","x":825,"y":2.5},{"p":4,"s":"LPS","x":850,"y":2.2},{"p":4,"s":"LPS","x":875,"y":2},{"p":4,"s":"LPS","x":900,"y":1.7},{"p":4,"s":"LPS","x":925,"y":1.5},{"p":4,"s":"LPS","x":950,"y":1.3},{"p":4,"s":"LPS","x":975,"y":1.2},{"p":4,"s":"LPS","x":1000,"y":1},
  {"p":4,"s":"LPS+ATP","x":0,"y":40},{"p":4,"s":"LPS+ATP","x":60,"y":80},{"p":4,"s":"LPS+ATP","x":80,"y":88},{"p":4,"s":"LPS+ATP","x":90,"y":95},{"p":4,"s":"LPS+ATP","x":100,"y":100},{"p":4,"s":"LPS+ATP","x":110,"y":92},{"p":4,"s":"LPS+ATP","x":130,"y":85},{"p":4,"s":"LPS+ATP","x":160,"y":80},{"p":4,"s":"LPS+ATP","x":200,"y":70},{"p":4,"s":"LPS+ATP","x":250,"y":55},{"p":4,"s":"LPS+ATP","x":300,"y":35},{"p":4,"s":"LPS+ATP","x":400,"y":17},{"p":4,"s":"LPS+ATP","x":500,"y":9},{"p":4,"s":"LPS+ATP","x":700,"y":3},{"p":4,"s":"LPS+ATP","x":1000,"y":0.3},

  {"p":5,"s":"IgG","x":0,"y":100},{"p":5,"s":"IgG","x":10,"y":100},{"p":5,"s":"IgG","x":20,"y":97},{"p":5,"s":"IgG","x":30,"y":88},{"p":5,"s":"IgG","x":40,"y":75},{"p":5,"s":"IgG","x":50,"y":63},{"p":5,"s":"IgG","x":60,"y":52},{"p":5,"s":"IgG","x":70,"y":42},{"p":5,"s":"IgG","x":80,"y":34},{"p":5,"s":"IgG","x":90,"y":25},{"p":5,"s":"IgG","x":100,"y":19},{"p":5,"s":"IgG","x":110,"y":14},{"p":5,"s":"IgG","x":120,"y":10},{"p":5,"s":"IgG","x":135,"y":6},{"p":5,"s":"IgG","x":150,"y":4},{"p":5,"s":"IgG","x":170,"y":2},{"p":5,"s":"IgG","x":190,"y":0.7},{"p":5,"s":"IgG","x":210,"y":0},
  {"p":5,"s":"Control","x":0,"y":85},{"p":5,"s":"Control","x":20,"y":95},{"p":5,"s":"Control","x":30,"y":100},{"p":5,"s":"Control","x":40,"y":98},{"p":5,"s":"Control","x":50,"y":96},{"p":5,"s":"Control","x":60,"y":92},{"p":5,"s":"Control","x":70,"y":94},{"p":5,"s":"Control","x":80,"y":84},{"p":5,"s":"Control","x":90,"y":74},{"p":5,"s":"Control","x":100,"y":62},{"p":5,"s":"Control","x":110,"y":53},{"p":5,"s":"Control","x":120,"y":44},{"p":5,"s":"Control","x":130,"y":37},{"p":5,"s":"Control","x":140,"y":30},{"p":5,"s":"Control","x":150,"y":25},{"p":5,"s":"Control","x":160,"y":20},{"p":5,"s":"Control","x":170,"y":16},{"p":5,"s":"Control","x":185,"y":12},{"p":5,"s":"Control","x":200,"y":9.5},{"p":5,"s":"Control","x":215,"y":7.5},{"p":5,"s":"Control","x":230,"y":6},{"p":5,"s":"Control","x":250,"y":4.5},{"p":5,"s":"Control","x":275,"y":3},{"p":5,"s":"Control","x":300,"y":2.2},{"p":5,"s":"Control","x":340,"y":1.5},{"p":5,"s":"Control","x":380,"y":1},{"p":5,"s":"Control","x":420,"y":0.7},{"p":5,"s":"Control","x":480,"y":0.4},{"p":5,"s":"Control","x":560,"y":0},
  {"p":5,"s":"LPS","x":0,"y":50},{"p":5,"s":"LPS","x":40,"y":70},{"p":5,"s":"LPS","x":60,"y":80},{"p":5,"s":"LPS","x":77,"y":85},{"p":5,"s":"LPS","x":90,"y":92},{"p":5,"s":"LPS","x":100,"y":97},{"p":5,"s":"LPS","x":110,"y":100},{"p":5,"s":"LPS","x":121,"y":98},{"p":5,"s":"LPS","x":135,"y":96},{"p":5,"s":"LPS","x":150,"y":95},{"p":5,"s":"LPS","x":166,"y":93},{"p":5,"s":"LPS","x":180,"y":87},{"p":5,"s":"LPS","x":195,"y":81},{"p":5,"s":"LPS","x":210,"y":75},{"p":5,"s":"LPS","x":225,"y":70},{"p":5,"s":"LPS","x":240,"y":64},{"p":5,"s":"LPS","x":255,"y":57},{"p":5,"s":"LPS","x":270,"y":50},{"p":5,"s":"LPS","x":285,"y":45},{"p":5,"s":"LPS","x":300,"y":41},{"p":5,"s":"LPS","x":315,"y":37},{"p":5,"s":"LPS","x":330,"y":33},{"p":5,"s":"LPS","x":345,"y":29},{"p":5,"s":"LPS","x":360,"y":25},{"p":5,"s":"LPS","x":380,"y":22},{"p":5,"s":"LPS","x":400,"y":19},{"p":5,"s":"LPS","x":420,"y":16},{"p":5,"s":"LPS","x":440,"y":14},{"p":5,"s":"LPS","x":460,"y":12.5},{"p":5,"s":"LPS","x":480,"y":11},{"p":5,"s":"LPS","x":500,"y":9.5},{"p":5,"s":"LPS","x":525,"y":8.5},{"p":5,"s":"LPS","x":550,"y":7.5},{"p":5,"s":"LPS","x":575,"y":7},{"p":5,"s":"LPS","x":600,"y":6},{"p":5,"s":"LPS","x":625,"y":5.5},{"p":5,"s":"LPS","x":650,"y":5},{"p":5,"s":"LPS","x":675,"y":4.5},{"p":5,"s":"LPS","x":700,"y":4},{"p":5,"s":"LPS","x":725,"y":3.8},{"p":5,"s":"LPS","x":750,"y":3.5},{"p":5,"s":"LPS","x":775,"y":3.2},{"p":5,"s":"LPS","x":800,"y":3},{"p":5,"s":"LPS","x":825,"y":2.8},{"p":5,"s":"LPS","x":850,"y":2.5},{"p":5,"s":"LPS","x":875,"y":2.2},{"p":5,"s":"LPS","x":900,"y":2},{"p":5,"s":"LPS","x":925,"y":1.8},{"p":5,"s":"LPS","x":950,"y":1.6},{"p":5,"s":"LPS","x":975,"y":1.5},{"p":5,"s":"LPS","x":1000,"y":1.5},
  {"p":5,"s":"LPS+ATP","x":0,"y":40},{"p":5,"s":"LPS+ATP","x":60,"y":80},{"p":5,"s":"LPS+ATP","x":77,"y":92},{"p":5,"s":"LPS+ATP","x":90,"y":100},{"p":5,"s":"LPS+ATP","x":100,"y":96},{"p":5,"s":"LPS+ATP","x":110,"y":100},{"p":5,"s":"LPS+ATP","x":121,"y":95},{"p":5,"s":"LPS+ATP","x":140,"y":88},{"p":5,"s":"LPS+ATP","x":170,"y":80},{"p":5,"s":"LPS+ATP","x":200,"y":68},{"p":5,"s":"LPS+ATP","x":250,"y":50},{"p":5,"s":"LPS+ATP","x":300,"y":35},{"p":5,"s":"LPS+ATP","x":400,"y":16},{"p":5,"s":"LPS+ATP","x":500,"y":8},{"p":5,"s":"LPS+ATP","x":700,"y":3},{"p":5,"s":"LPS+ATP","x":1000,"y":0.5},

  {"p":6,"s":"IgG","x":0,"y":100},{"p":6,"s":"IgG","x":10,"y":98},{"p":6,"s":"IgG","x":20,"y":100},{"p":6,"s":"IgG","x":30,"y":90},{"p":6,"s":"IgG","x":40,"y":79},{"p":6,"s":"IgG","x":50,"y":68},{"p":6,"s":"IgG","x":60,"y":56},{"p":6,"s":"IgG","x":70,"y":45},{"p":6,"s":"IgG","x":80,"y":37},{"p":6,"s":"IgG","x":90,"y":27},{"p":6,"s":"IgG","x":100,"y":21},{"p":6,"s":"IgG","x":110,"y":16},{"p":6,"s":"IgG","x":120,"y":11},{"p":6,"s":"IgG","x":135,"y":6.5},{"p":6,"s":"IgG","x":150,"y":3.5},{"p":6,"s":"IgG","x":165,"y":1.5},{"p":6,"s":"IgG","x":180,"y":0.5},{"p":6,"s":"IgG","x":200,"y":0},
  {"p":6,"s":"Control","x":0,"y":85},{"p":6,"s":"Control","x":20,"y":96},{"p":6,"s":"Control","x":30,"y":100},{"p":6,"s":"Control","x":40,"y":98},{"p":6,"s":"Control","x":50,"y":95},{"p":6,"s":"Control","x":60,"y":90},{"p":6,"s":"Control","x":70,"y":84},{"p":6,"s":"Control","x":80,"y":80},{"p":6,"s":"Control","x":90,"y":70},{"p":6,"s":"Control","x":100,"y":56},{"p":6,"s":"Control","x":110,"y":45},{"p":6,"s":"Control","x":120,"y":36},{"p":6,"s":"Control","x":130,"y":29},{"p":6,"s":"Control","x":140,"y":23},{"p":6,"s":"Control","x":150,"y":18},{"p":6,"s":"Control","x":165,"y":13},{"p":6,"s":"Control","x":180,"y":10},{"p":6,"s":"Control","x":200,"y":7},{"p":6,"s":"Control","x":225,"y":4.6},{"p":6,"s":"Control","x":250,"y":3.3},{"p":6,"s":"Control","x":280,"y":2.3},{"p":6,"s":"Control","x":315,"y":1.6},{"p":6,"s":"Control","x":360,"y":1},{"p":6,"s":"Control","x":420,"y":0.6},{"p":6,"s":"Control","x":480,"y":0.3},{"p":6,"s":"Control","x":550,"y":0},
  {"p":6,"s":"LPS","x":0,"y":50},{"p":6,"s":"LPS","x":40,"y":68},{"p":6,"s":"LPS","x":60,"y":76},{"p":6,"s":"LPS","x":70,"y":78},{"p":6,"s":"LPS","x":80,"y":82},{"p":6,"s":"LPS","x":92,"y":85},{"p":6,"s":"LPS","x":100,"y":90},{"p":6,"s":"LPS","x":110,"y":94},{"p":6,"s":"LPS","x":120,"y":96},{"p":6,"s":"LPS","x":129,"y":98},{"p":6,"s":"LPS","x":140,"y":96},{"p":6,"s":"LPS","x":155,"y":94},{"p":6,"s":"LPS","x":173,"y":91},{"p":6,"s":"LPS","x":190,"y":85},{"p":6,"s":"LPS","x":205,"y":82},{"p":6,"s":"LPS","x":210,"y":86},{"p":6,"s":"LPS","x":215,"y":80},{"p":6,"s":"LPS","x":233,"y":75},{"p":6,"s":"LPS","x":250,"y":67},{"p":6,"s":"LPS","x":265,"y":60},{"p":6,"s":"LPS","x":284,"y":50},{"p":6,"s":"LPS","x":300,"y":45},{"p":6,"s":"LPS","x":315,"y":40},{"p":6,"s":"LPS","x":329,"y":36},{"p":6,"s":"LPS","x":345,"y":32},{"p":6,"s":"LPS","x":360,"y":28},{"p":6,"s":"LPS","x":373,"y":25},{"p":6,"s":"LPS","x":390,"y":23},{"p":6,"s":"LPS","x":410,"y":20},{"p":6,"s":"LPS","x":430,"y":18},{"p":6,"s":"LPS","x":447,"y":16.6},{"p":6,"s":"LPS","x":470,"y":14},{"p":6,"s":"LPS","x":500,"y":11.5},{"p":6,"s":"LPS","x":525,"y":10},{"p":6,"s":"LPS","x":551,"y":9},{"p":6,"s":"LPS","x":575,"y":7.5},{"p":6,"s":"LPS","x":600,"y":6.5},{"p":6,"s":"LPS","x":625,"y":5.5},{"p":6,"s":"LPS","x":650,"y":5},{"p":6,"s":"LPS","x":675,"y":4.3},{"p":6,"s":"LPS","x":700,"y":3.8},{"p":6,"s":"LPS","x":725,"y":3.3},{"p":6,"s":"LPS","x":758,"y":3},{"p":6,"s":"LPS","x":775,"y":2.5},{"p":6,"s":"LPS","x":800,"y":2.2},{"p":6,"s":"LPS","x":825,"y":2},{"p":6,"s":"LPS","x":850,"y":1.8},{"p":6,"s":"LPS","x":875,"y":1.6},{"p":6,"s":"LPS","x":900,"y":1.4},{"p":6,"s":"LPS","x":925,"y":1.2},{"p":6,"s":"LPS","x":950,"y":1.1},{"p":6,"s":"LPS","x":975,"y":1},{"p":6,"s":"LPS","x":1000,"y":1},
  {"p":6,"s":"LPS+ATP","x":0,"y":40},{"p":6,"s":"LPS+ATP","x":60,"y":78},{"p":6,"s":"LPS+ATP","x":75,"y":88},{"p":6,"s":"LPS+ATP","x":82,"y":92},{"p":6,"s":"LPS+ATP","x":88,"y":100},{"p":6,"s":"LPS+ATP","x":94,"y":96},{"p":6,"s":"LPS+ATP","x":100,"y":100},{"p":6,"s":"LPS+ATP","x":110,"y":93},{"p":6,"s":"LPS+ATP","x":120,"y":92},{"p":6,"s":"LPS+ATP","x":140,"y":88},{"p":6,"s":"LPS+ATP","x":170,"y":82},{"p":6,"s":"LPS+ATP","x":200,"y":72},{"p":6,"s":"LPS+ATP","x":250,"y":55},{"p":6,"s":"LPS+ATP","x":300,"y":38},{"p":6,"s":"LPS+ATP","x":400,"y":16},{"p":6,"s":"LPS+ATP","x":500,"y":8},{"p":6,"s":"LPS+ATP","x":700,"y":2.5},{"p":6,"s":"LPS+ATP","x":1000,"y":0.5}
 ],
 "legend": [{"s": "IgG"}, {"s": "Control"}, {"s": "LPS"}, {"s": "LPS+ATP"}]
},
"spacing": 26,
"resolve": {"scale": {"color": "independent", "size": "independent", "opacity": "independent"}},
"vconcat": [
 {
  "spacing": 38,
  "resolve": {"scale": {"color": "independent", "size": "independent", "opacity": "independent"}},
  "vconcat": [
   {
    "spacing": 0,
    "hconcat": [
     {"width": 336, "height": 10, "data": {"values": []}, "mark": "point", "view": {"stroke": null}},
     {
      "width": 220, "height": 219,
      "title": {"text": "Monocytes", "font": "DejaVu Sans", "fontSize": 24, "fontWeight": "bold", "color": "black", "offset": 27, "frame": "group", "anchor": "middle", "dx": -7},
      "view": {"stroke": "#555", "strokeWidth": 1.5},
      "encoding": {
       "x": {"field": "x", "type": "quantitative", "scale": {"domain": [0, 300], "nice": false}, "axis": {"values": [0, 100, 200, 300], "title": "FSC-A (10^3)", "labelFontWeight": "bold", "labelFontSize": 22, "titleFontWeight": "bold", "titleFontSize": 23, "labelPadding": 5, "titlePadding": 8}},
       "y": {"field": "y", "type": "quantitative", "scale": {"domain": [0, 300], "nice": false}, "axis": {"values": [0, 100, 200, 300], "title": "SSC-A (10^3)", "labelFontWeight": "bold", "labelFontSize": 22, "titleFontWeight": "bold", "titleFontSize": 23, "labelPadding": 2, "titlePadding": 6}}
      },
      "layer": [
       {
        "data": {"name": "events"},
        "mark": {"type": "circle", "clip": true},
        "encoding": {
         "color": {"field": "d", "type": "ordinal", "scale": {"domain": [0, 1, 2, 3, 4, 5, 6], "range": ["#2f3b46", "#1d3f5a", "#2b877a", "#a6c83a", "#f2d01c", "#f5a020", "#e63c1e"]}, "legend": null},
         "size": {"field": "d", "type": "ordinal", "scale": {"domain": [0, 1, 2, 3, 4, 5, 6], "range": [8, 60, 90, 100, 120, 120, 120]}, "legend": null},
         "opacity": {"field": "d", "type": "ordinal", "scale": {"domain": [0, 1, 2, 3, 4, 5, 6], "range": [0.55, 0.72, 0.8, 0.9, 0.9, 0.95, 0.95]}, "legend": null},
         "order": {"field": "d", "type": "quantitative"}
        }
       },
       {
        "data": {"name": "gate"},
        "mark": {"type": "line", "color": "#c8202a", "strokeWidth": 2},
        "encoding": {"order": {"field": "i", "type": "quantitative"}}
       },
       {
        "data": {"values": [{"x": 50, "y": 201, "label": "R2: 12.301%"}]},
        "mark": {"type": "text", "align": "left", "baseline": "middle", "font": "DejaVu Sans", "fontWeight": "bold", "fontSize": 16.5, "color": "#c8202a"},
        "encoding": {"text": {"field": "label"}}
       }
      ]
     }
    ]
   },
   {
    "data": {"name": "hist"},
    "transform": [{"lookup": "p", "from": {"data": {"name": "panels"}, "key": "p", "fields": ["m", "t"]}}],
    "facet": {
     "row": {"field": "m", "type": "nominal", "title": null, "header": {"labelAngle": -90, "labelOrient": "left", "labelFont": "Lato", "labelFontWeight": "bold", "labelFontSize": 31, "labelColor": "black", "labelPadding": -7}},
     "column": {"field": "t", "type": "nominal", "title": null, "header": {"labelFont": "Lato", "labelFontWeight": "bold", "labelFontSize": 32, "labelColor": "black", "labelPadding": 24}}
    },
    "spacing": {"row": 32, "column": 64},
    "resolve": {"axis": {"x": "independent", "y": "independent"}},
    "spec": {
     "width": 226, "height": 226,
     "encoding": {
      "x": {"field": "x", "type": "quantitative", "scale": {"domain": [0, 1000], "nice": false}, "axis": {"values": [0, 250, 500, 750, 1000], "format": "d", "title": "Fluorescence", "labelPadding": 4, "titlePadding": 8}},
      "y": {"field": "y", "type": "quantitative", "scale": {"domain": [0, 100], "nice": false}, "axis": {"values": [0, 25, 50, 75, 100], "title": "Percent of Max", "titlePadding": 9}}
     },
     "layer": [
      {"transform": [{"filter": "datum.s === 'LPS+ATP'"}], "mark": {"type": "area", "color": "#ff0000", "clip": true}},
      {"transform": [{"filter": "datum.s === 'LPS'"}], "mark": {"type": "area", "color": "#ffc000", "clip": true}},
      {"transform": [{"filter": "datum.s === 'Control'"}], "mark": {"type": "area", "color": "#00b050", "clip": true}},
      {"transform": [{"filter": "datum.s === 'IgG'"}], "mark": {"type": "area", "color": "#0070c0", "clip": true}}
     ]
    }
   }
  ]
 },
 {
  "data": {"name": "legend"},
  "width": 835, "height": 40,
  "view": {"stroke": null},
  "encoding": {
   "x": {"field": "s", "type": "nominal", "sort": ["IgG", "Control", "LPS", "LPS+ATP"], "scale": {"type": "point", "padding": 0}, "axis": null}
  },
  "layer": [
   {"mark": {"type": "square", "filled": true, "size": 1600, "opacity": 1}, "encoding": {"color": {"field": "s", "type": "nominal", "scale": {"domain": ["IgG", "Control", "LPS", "LPS+ATP"], "range": ["#0070c0", "#00b050", "#ffc000", "#ff0000"]}, "legend": null}}},
   {"mark": {"type": "text", "align": "left", "baseline": "middle", "dx": 50, "font": "Lato", "fontWeight": "bold", "fontSize": 32, "color": "black"}, "encoding": {"text": {"field": "s"}}}
  ]
 }
]
}
